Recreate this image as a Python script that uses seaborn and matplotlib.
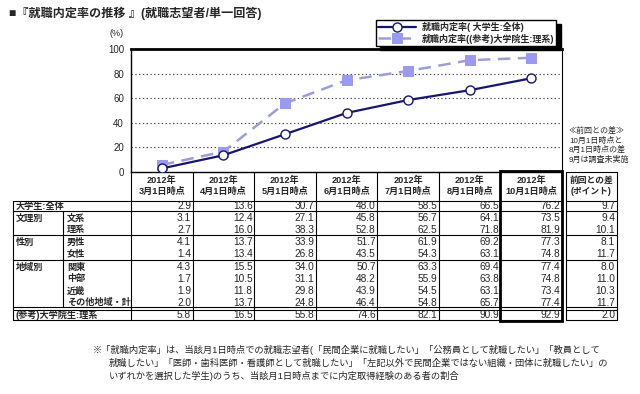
import numpy as np
import pandas as pd
import matplotlib
matplotlib.use("Agg")
import matplotlib.pyplot as plt
from matplotlib.patches import Rectangle
import seaborn as sns

# ---- data ----
year_label = "2012年"
months = ["3月1日時点", "4月1日時点", "5月1日時点", "6月1日時点",
          "7月1日時点", "8月1日時点", "10月1日時点"]

all_students = [2.9, 13.6, 30.7, 48.0, 58.5, 66.5, 76.2]
humanities = [3.1, 12.4, 27.1, 45.8, 56.7, 64.1, 73.5]
sciences = [2.7, 16.0, 38.3, 52.8, 62.5, 71.8, 81.9]
male = [4.1, 13.7, 33.9, 51.7, 61.9, 69.2, 77.3]
female = [1.4, 13.4, 26.8, 43.5, 54.3, 63.1, 74.8]
kanto = [4.3, 15.5, 34.0, 50.7, 63.3, 69.4, 77.4]
chubu = [1.7, 10.5, 31.1, 48.2, 55.9, 63.8, 74.8]
kinki = [1.9, 11.8, 29.8, 43.9, 54.5, 63.1, 73.4]
other_regions = [2.0, 13.7, 24.8, 46.4, 54.8, 65.7, 77.4]
grad_science = [5.8, 16.5, 55.8, 74.6, 82.1, 90.9, 92.9]

diff_points = [9.7, 9.4, 10.1, 8.1, 11.7, 8.0, 11.0, 10.3, 11.7, 2.0]

group_labels = ["大学生:全体", "文理別", "", "性別", "", "地域別", "", "", "", "(参考)大学院生:理系"]
sub_labels = ["", "文系", "理系", "男性", "女性", "関東", "中部", "近畿", "その他地域・計", ""]

series_all_label = "就職内定率( 大学生:全体)"
series_grad_label = "就職内定率((参考)大学院生:理系)"

title = "■『就職内定率の推移 』(就職志望者/単一回答)"
note_lines = ["≪前回との差≫", "10月1日時点と", "8月1日時点の差", "9月は調査未実施"]
footnote = [
    "※「就職内定率」は、当該月1日時点での就職志望者(「民間企業に就職したい」「公務員として就職したい」「教員として",
    "就職したい」「医師・歯科医師・看護師として就職したい」「左記以外で民間企業ではない組織・団体に就職したい」の",
    "いずれかを選択した学生)のうち、当該月1日時点までに内定取得経験のある者の割合",
]

table_rows = [all_students, humanities, sciences, male, female,
              kanto, chubu, kinki, other_regions, grad_science]

df = pd.DataFrame({"pos": range(len(months)), "month": months,
                   "all": all_students, "grad": grad_science})

# ---- style ----
sns.set_style("white")
plt.rcParams["font.family"] = ["Liberation Sans", "Noto Sans CJK JP", "DejaVu Sans"]

W, H = 640, 394
fig = plt.figure(figsize=(W / 100, H / 100), dpi=100)

# chart area
x0, x1, ytop, ybot = 131, 562, 49, 172
ax = fig.add_axes([x0 / W, 1 - ybot / H, (x1 - x0) / W, (ybot - ytop) / H])

navy = "#16166e"
lav_line = "#9d9dd6"
lav_mark = "#9a9af0"

sns.lineplot(data=df, x="pos", y="grad", ax=ax, color=lav_line, lw=1.8,
             linestyle=(0, (5, 3)), marker="s", markersize=6.5,
             markerfacecolor=lav_mark, markeredgecolor=lav_mark,
             label=series_grad_label, zorder=3)
sns.lineplot(data=df, x="pos", y="all", ax=ax, color=navy, lw=1.6,
             marker="o", markersize=6.5, markerfacecolor="white",
             markeredgecolor=navy, markeredgewidth=1.0,
             label=series_all_label, zorder=4)

ax.set_xlim(-0.5, len(months) - 0.5)
ax.set_ylim(0, 100)
ax.set_yticks([0, 20, 40, 60, 80, 100])
ax.set_xticks([])
ax.set_xlabel("")
ax.set_ylabel("")
ax.tick_params(axis="y", length=0, labelsize=7, pad=5)
for v in [20, 40, 60, 80]:
    ax.axhline(v, color="#444444", lw=0.8, linestyle=(0, (1.2, 2.2)), zorder=1)
ax.spines["top"].set_linewidth(2.0)
ax.spines["left"].set_linewidth(1.0)
ax.spines["right"].set_linewidth(0.8)
ax.spines["bottom"].set_linewidth(1.0)
for s in ax.spines.values():
    s.set_color("black")

handles, labels = ax.get_legend_handles_labels()
leg = ax.legend(handles[::-1], labels[::-1], loc="upper left",
                bbox_to_anchor=(376 / W, 1 - 20 / H), bbox_transform=fig.transFigure,
                frameon=True, fancybox=False, shadow={"color": "black", "alpha": 1, "ox": 3, "oy": -3},
                edgecolor="black", fontsize=6.5, handlelength=4.2, borderpad=0.25,
                labelspacing=0.15, handletextpad=0.6, borderaxespad=0)
leg.get_frame().set_linewidth(1.0)
for t in leg.get_texts():
    t.set_fontweight("bold")

# overlay for table and texts (pixel coordinates)
ov = fig.add_axes([0, 0, 1, 1])
ov.set_xlim(0, W)
ov.set_ylim(H, 0)
ov.axis("off")
ov.patch.set_alpha(0)

ov.text(9, 13, title, fontsize=8.7, fontweight="bold", va="center", ha="left")
ov.text(110, 33, "(%)", fontsize=6.5, va="center", ha="left")

for i, line in enumerate(note_lines):
    ov.text(569, 131 + i * 9.5, line, fontsize=5.8, va="center", ha="left")

edges = np.linspace(x0, x1, len(months) + 1)
row_y = [206, 218, 229.5, 242, 254, 267, 279, 291, 302.5, 315]
lw = 0.8

# header
for i, m in enumerate(months):
    cx = (edges[i] + edges[i + 1]) / 2
    ov.text(cx, 180, year_label, fontsize=6.6, fontweight="bold", ha="center", va="center")
    ov.text(cx, 191, m, fontsize=6.6, fontweight="bold", ha="center", va="center")
ov.text(591.5, 180, "前回との差", fontsize=6.3, fontweight="bold", ha="center", va="center")
ov.text(591.5, 191, "(ポイント)", fontsize=6.3, fontweight="bold", ha="center", va="center")

# rows
for r, vals in enumerate(table_rows):
    y = row_y[r]
    if group_labels[r]:
        ov.text(16, y, group_labels[r], fontsize=6.6, fontweight="bold", ha="left", va="center")
    if sub_labels[r]:
        ov.text(67, y, sub_labels[r], fontsize=6.6, fontweight="bold", ha="left", va="center")
    for i, v in enumerate(vals):
        ov.text(edges[i + 1] - 1.5, y, f"{v:.1f}", fontsize=7.3, ha="right", va="center")
    ov.text(615, y, f"{diff_points[r]:.1f}", fontsize=7.3, ha="right", va="center")

# grid lines of the table
for y in [201, 211, 235, 260, 307, 309.5, 320]:
    ov.plot([13, x1], [y, y], color="black", lw=lw)
    ov.plot([566, 617], [y, y], color="black", lw=lw)
ov.plot([566, 617], [172, 172], color="black", lw=lw)
ov.plot([13, 13], [201, 320], color="black", lw=lw)
ov.plot([63, 63], [211, 307], color="black", lw=lw)
for e in edges:
    ov.plot([e, e], [172, 320], color="black", lw=lw)
ov.plot([566, 566], [172, 320], color="black", lw=lw)
ov.plot([617, 617], [172, 320], color="black", lw=lw)
ov.add_patch(Rectangle((edges[-2], 171), edges[-1] - edges[-2], 150,
                       fill=False, lw=2.0, edgecolor="black"))

# footnote
ov.text(93, 350, footnote[0], fontsize=6.7, ha="left", va="center")
ov.text(109, 363, footnote[1], fontsize=6.7, ha="left", va="center")
ov.text(109, 376, footnote[2], fontsize=6.7, ha="left", va="center")

fig.savefig("out.png", dpi=100)
